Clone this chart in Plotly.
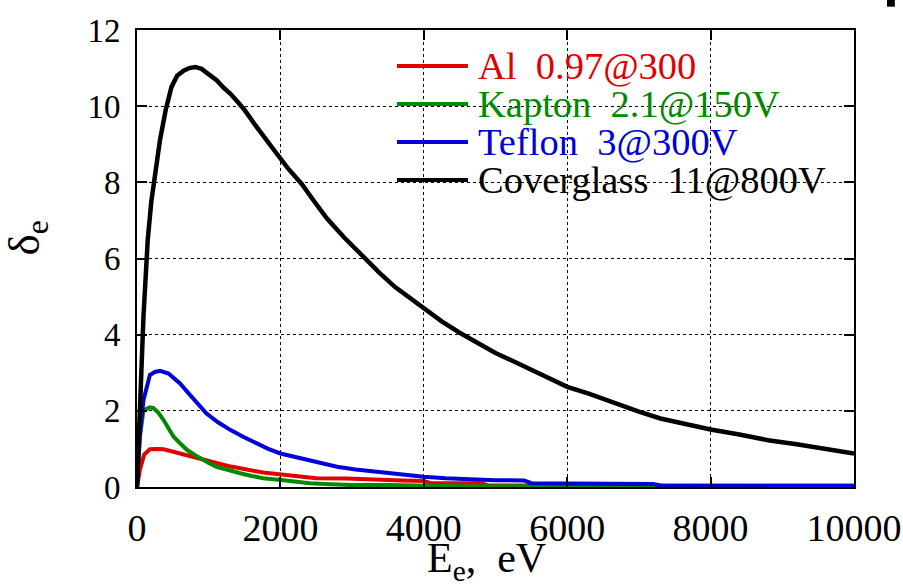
import plotly.graph_objects as go

# ---- data ----
al_E = [0, 40, 100, 180, 280, 370, 480, 600, 720, 830, 970, 1110, 1270, 1440, 1600, 1760, 1950,
        2130, 2320, 2500, 2920, 3340, 3700, 4000, 4100, 4800, 4900, 10000]
al_d = [0, 0.45, 0.85, 0.99, 1.0, 0.99, 0.94, 0.88, 0.81, 0.75, 0.68, 0.62, 0.55, 0.49, 0.43, 0.38, 0.34,
        0.31, 0.27, 0.23, 0.22, 0.18, 0.17, 0.16, 0.1, 0.1, 0.04, 0.03]

kapton_E = [0, 40, 90, 180, 230, 300, 370, 440, 510, 600, 700, 800, 880, 1000, 1110, 1270, 1440, 1600,
            1760, 2040, 2410, 2700, 3000, 3500, 4000, 4500, 10000]
kapton_d = [0, 1.3, 2.02, 2.09, 2.07, 1.95, 1.76, 1.55, 1.32, 1.15, 0.97, 0.85, 0.75, 0.63, 0.53, 0.44, 0.36, 0.29,
            0.23, 0.18, 0.1, 0.07, 0.05, 0.05, 0.04, 0.02, 0.02]

teflon_E = [0, 40, 90, 180, 250, 320, 440, 600, 720, 850, 970, 1130, 1300, 1480, 1670, 1830, 2000, 2180,
            2370, 2580, 2790, 3050, 3340, 3650, 4000, 4300, 4600, 5000, 5400, 5500, 6000, 7200, 7300, 8000, 10000]
teflon_d = [0, 1.4, 2.28, 2.94, 3.02, 3.05, 2.98, 2.72, 2.46, 2.2, 1.93, 1.7, 1.5, 1.32, 1.15, 1.0, 0.88, 0.8,
            0.71, 0.62, 0.53, 0.46, 0.4, 0.33, 0.27, 0.23, 0.2, 0.18, 0.17, 0.1, 0.09, 0.08, 0.04, 0.03, 0.03]

glass_E = [0, 50, 90, 150, 200, 260, 320, 400, 480, 560, 650, 730, 810, 900, 1000, 1110, 1200, 1300, 1400,
           1500, 1650, 1800, 1950, 2100, 2300, 2460, 2650, 2880, 3050, 3200, 3390, 3600, 3800, 4000, 4250,
           4500, 4750, 5000, 5250, 5500, 5750, 6000, 6300, 6650, 7000, 7300, 7650, 8000, 8400, 8800, 9200,
           9600, 10000]
glass_d = [0, 2.5, 4.47, 6.5, 7.5, 8.3, 9.1, 9.9, 10.5, 10.8, 10.93, 11.0, 11.03, 10.98, 10.85, 10.68, 10.5,
           10.33, 10.12, 9.9, 9.5, 9.1, 8.75, 8.38, 7.95, 7.53, 7.05, 6.57, 6.25, 5.96, 5.61, 5.25, 4.98, 4.7,
           4.35, 4.05, 3.78, 3.52, 3.3, 3.08, 2.85, 2.63, 2.45, 2.2, 1.98, 1.8, 1.65, 1.51, 1.38, 1.23, 1.12,
           1.0, 0.88]

names = ["Al  0.97@300", "Kapton  2.1@150V", "Teflon  3@300V", "Coverglass  11@800V"]
colors = ["#e00000", "#008a00", "#0000d8", "#000000"]
widths = [4, 4, 4, 4.5]
series = [(al_E, al_d), (kapton_E, kapton_d), (teflon_E, teflon_d), (glass_E, glass_d)]

x_ticks = [0, 2000, 4000, 6000, 8000, 10000]
y_ticks = [0, 2, 4, 6, 8, 10, 12]

FONT = "Liberation Serif"

fig = go.Figure()
for (ex, dy), nm, c, w in zip(series, names, colors, widths):
    fig.add_trace(go.Scatter(x=ex, y=dy, mode="lines", name=nm,
                             line=dict(color=c, width=w), showlegend=False))

# custom legend (long line samples, coloured text, no box)
leg_y = [0.921, 0.838, 0.755, 0.672]
shapes = []
annotations = []
for nm, c, ly in zip(names, colors, leg_y):
    shapes.append(dict(type="line", xref="paper", yref="paper", x0=0.3626, x1=0.4616, y0=ly, y1=ly,
                       line=dict(color=c, width=4)))
    annotations.append(dict(xref="paper", yref="paper", x=0.4735, y=ly, xanchor="left", yanchor="middle",
                            text=nm.replace("  ", "\u00a0\u00a0"), showarrow=False,
                            font=dict(family=FONT, size=38.5, color=c)))

# axis titles
annotations.append(dict(xref="paper", yref="paper", x=0.488, y=-0.163, xanchor="center", yanchor="middle",
                        text="E<sub>e</sub>,\u00a0\u00a0eV", showarrow=False,
                        font=dict(family=FONT, size=42, color="black")))
annotations.append(dict(xref="paper", yref="paper", x=-0.154, y=0.545, xanchor="center", yanchor="middle",
                        text="δ<sub>e</sub>", textangle=-90, showarrow=False,
                        font=dict(family=FONT, size=45, color="black")))

# small black square in the top-right corner of the reference
shapes.append(dict(type="rect", xref="paper", yref="paper", x0=1.046, x1=1.057, y0=1.051, y1=1.066,
                   fillcolor="black", line=dict(width=0)))

fig.update_layout(
    width=903, height=586,
    margin=dict(l=137, r=49, t=30, b=99, autoexpand=False),
    paper_bgcolor="white", plot_bgcolor="white",
    font=dict(family=FONT, color="black"),
    shapes=shapes, annotations=annotations,
    showlegend=False,
)
fig.update_xaxes(range=[0, 10000], tickvals=x_ticks, ticktext=[str(v) for v in x_ticks],
                 ticks="inside", ticklen=10, tickwidth=2, tickcolor="black",
                 showline=True, linecolor="black", linewidth=2, mirror="ticks",
                 showgrid=True, gridcolor="black", griddash="dot", gridwidth=1,
                 zeroline=False, tickfont=dict(family=FONT, size=38, color="black"),
                 ticklabelstandoff=6, automargin=False)
fig.update_yaxes(range=[0, 12], tickvals=y_ticks, ticktext=[str(v) for v in y_ticks],
                 ticks="inside", ticklen=10, tickwidth=2, tickcolor="black",
                 showline=True, linecolor="black", linewidth=2, mirror="ticks",
                 showgrid=True, gridcolor="black", griddash="dot", gridwidth=1,
                 zeroline=False, tickfont=dict(family=FONT, size=33, color="black"),
                 ticklabelstandoff=8, automargin=False)

fig.write_html("out.html", config={"displayModeBar": False},
               post_script="document.body.style.margin='0';document.body.style.overflow='hidden';")
